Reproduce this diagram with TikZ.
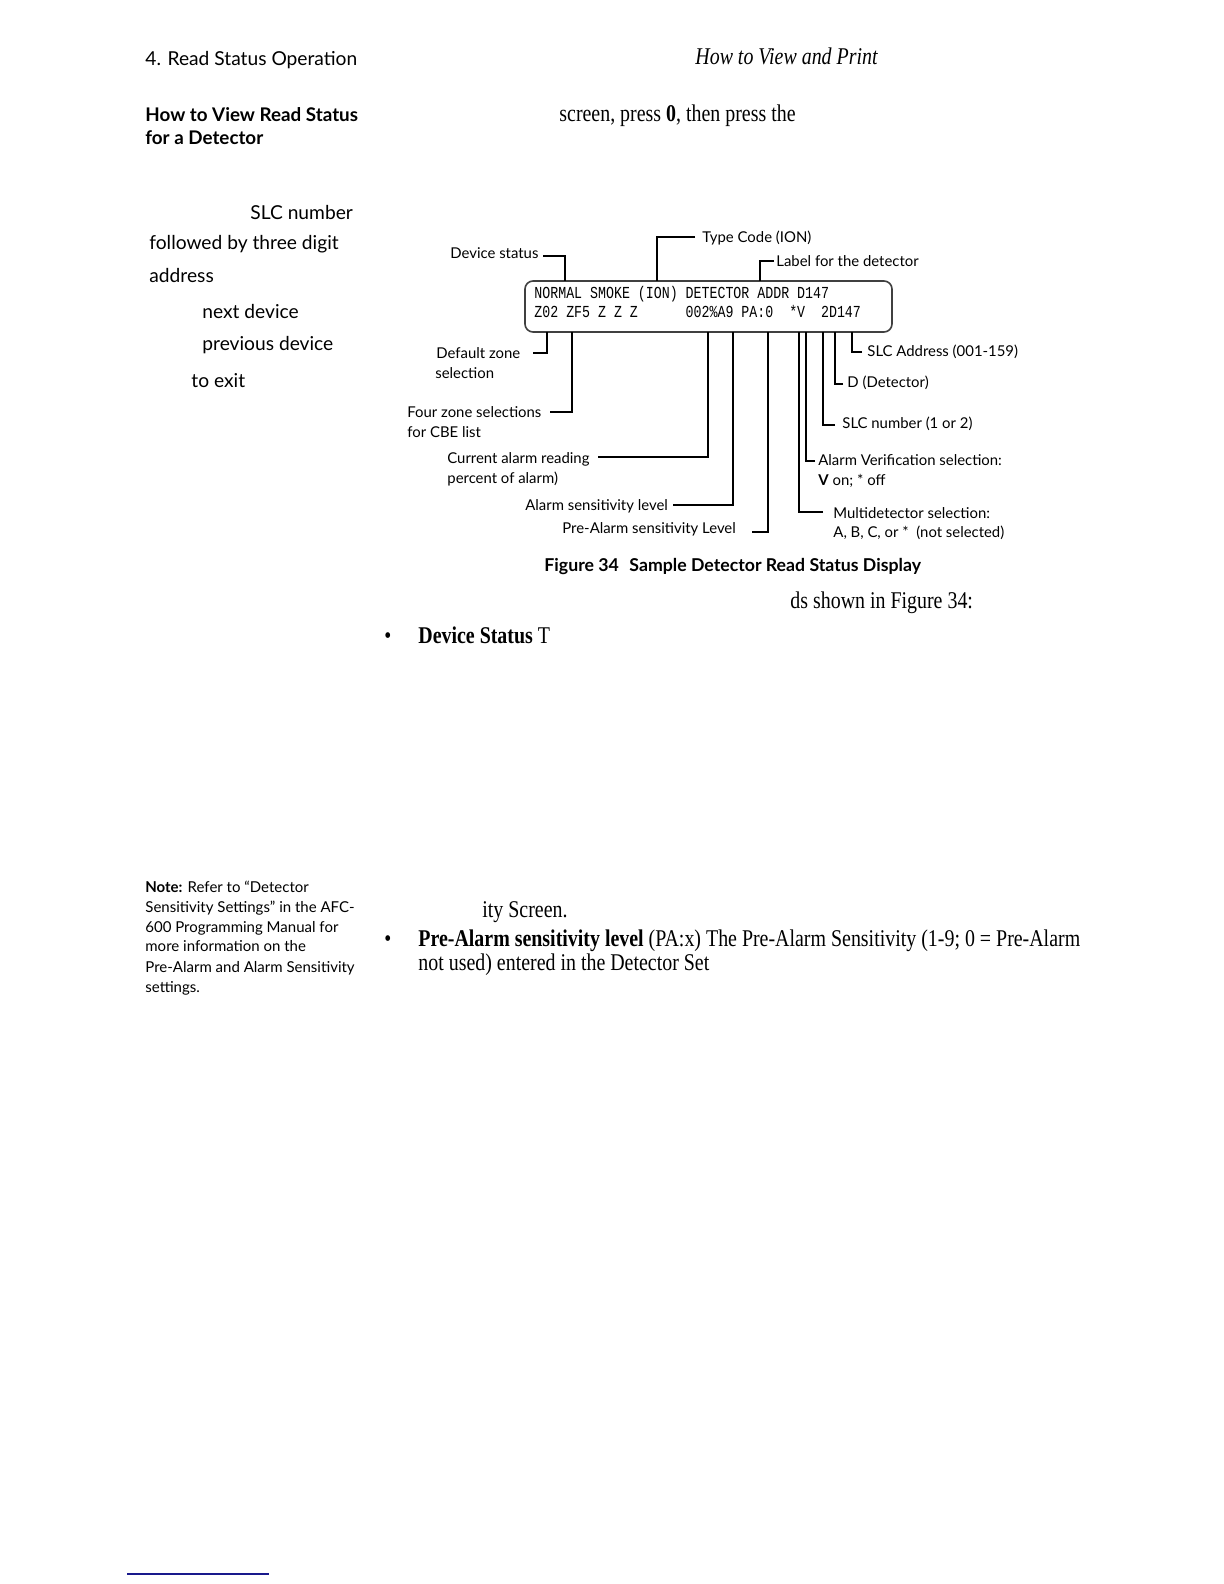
\documentclass[tikz,border=0pt]{standalone}
\usepackage{fontspec}
\setmainfont{Liberation Serif}[FakeStretch=0.83]
\newfontfamily\optima{Lato}
\newfontfamily\lcdfont{Liberation Mono}[FakeStretch=0.79]
\definecolor{linknavy}{RGB}{25,25,140}
\tikzset{
	txt/.style={inner sep=0pt, anchor=base west},
	runhead/.style={txt, font=\optima\fontsize{9.6}{12}\selectfont},
	sidehead/.style={txt, font=\optima\bfseries\fontsize{9.4}{12}\selectfont},
	sidetext/.style={txt, font=\optima\fontsize{9.6}{12}\selectfont},
	notetext/.style={txt, font=\optima\fontsize{7.5}{10}\selectfont},
	bodytext/.style={txt, font=\fontsize{12}{14}\selectfont},
	calltext/.style={txt, font=\optima\fontsize{7.45}{10}\selectfont},
	figcap/.style={txt, font=\optima\bfseries\fontsize{8.85}{10}\selectfont},
	lcdtext/.style={txt, font=\lcdfont\fontsize{8.4}{10}\selectfont},
	lead/.style={line width=0.6pt},
}

\begin{document}
\begin{tikzpicture}[x=0.5pt, y=-0.5pt]
	\useasboundingbox (0,0) rectangle (1224,1584);
	% Page text:
	\node[runhead] (chap) at (145,66){4. Read Status Operation};
	\node[bodytext, font=\itshape\fontsize{12}{14}\selectfont] (runtitle) at (695,65){How to View and Print};
	\node[sidehead] (head1) at (145,122){How to View Read Status};
	\node[sidehead] (head2) at (145,145){for a Detector};
	\node[bodytext] (step1) at (559,121){screen, press \textbf{0}, then press the};
	\node[sidetext] (side1) at (250,219){SLC number};
	\node[sidetext] (side2) at (149,249){followed by three digit};
	\node[sidetext] (side3) at (149,282){address};
	\node[sidetext] (side4) at (202,318){next device};
	\node[sidetext] (side5) at (202,350){previous device};
	\node[sidetext] (side6) at (191,387){to exit};
	% Display and leads:
	\node[draw=black!75, line width=0.8pt, rounded corners=4pt, minimum width=183.5pt, minimum height=25.5pt, inner sep=0pt] (panel) at (708.5,306.5){};
	\node[lcdtext] (row1) at (534,298){NORMAL SMOKE (ION) DETECTOR ADDR D147};
	\node[lcdtext] (row2) at (534,317){Z02 ZF5 Z Z Z\phantom{000000}002\%A9 PA:0\phantom{00}*V\phantom{00}2D147};
	\node[calltext] (lstatus) at (450,258){Device status};
	\node[calltext] (ltype) at (702,242){Type Code (ION)};
	\node[calltext] (llabel) at (776,266){Label for the detector};
	\node[calltext] (ldefault) at (436,358){Default zone};
	\node[calltext] (ldefault2) at (435,378){selection};
	\node[calltext] (lzones) at (407,417){Four zone selections};
	\node[calltext] (lzones2) at (407,437){for CBE list};
	\node[calltext] (lreading) at (447,463){Current alarm reading};
	\node[calltext] (lreading2) at (447,483){percent of alarm)};
	\node[calltext] (lalarm) at (525,510){Alarm sensitivity level};
	\node[calltext] (lprealarm) at (562,533){Pre-Alarm sensitivity Level};
	\node[calltext] (laddr) at (867,356){SLC Address (001-159)};
	\node[calltext] (ldet) at (847,387){D (Detector)};
	\node[calltext] (lslc) at (842,428){SLC number (1 or 2)};
	\node[calltext] (lverif) at (818,465){Alarm Verification selection:};
	\node[calltext] (lverif2) at (818,485){\textbf{V} on; * off};
	\node[calltext] (lmulti) at (833,518){Multidetector selection:};
	\node[calltext] (lmulti2) at (833,537){A, B, C, or * \ (not selected)};
	\coordinate (kstatus) at (543,256);  \coordinate (pstatus) at (565,281);
	\coordinate (ktype) at (695,237);    \coordinate (ptype) at (657,281);
	\coordinate (klabel) at (774,261);   \coordinate (plabel) at (760,281);
	\coordinate (kdefault) at (533,353); \coordinate (pdefault) at (547,332);
	\coordinate (kzones) at (550,412);   \coordinate (pzones) at (572,332);
	\coordinate (kreading) at (598,457); \coordinate (preading) at (708,332);
	\coordinate (kalarm) at (673,505);   \coordinate (palarm) at (733,332);
	\coordinate (kprealarm) at (752,532);\coordinate (pprealarm) at (768,332);
	\coordinate (kaddr) at (862,352);    \coordinate (paddr) at (852,332);
	\coordinate (kdet) at (843,384);     \coordinate (pdet) at (835,332);
	\coordinate (kslc) at (835,425);     \coordinate (pslc) at (823,332);
	\coordinate (kverif) at (815,461);   \coordinate (pverif) at (806,332);
	\coordinate (kmulti) at (823,512);   \coordinate (pmulti) at (799,332);
	\draw[lead] (kstatus) -| (pstatus);
	\draw[lead] (ktype) -| (ptype);
	\draw[lead] (klabel) -| (plabel);
	\draw[lead] (kdefault) -| (pdefault);
	\draw[lead] (kzones) -| (pzones);
	\draw[lead] (kreading) -| (preading);
	\draw[lead] (kalarm) -| (palarm);
	\draw[lead] (kprealarm) -| (pprealarm);
	\draw[lead] (kaddr) -| (paddr);
	\draw[lead] (kdet) -| (pdet);
	\draw[lead] (kslc) -| (pslc);
	\draw[lead] (kverif) -| (pverif);
	\draw[lead] (kmulti) -| (pmulti);
	\node[figcap] (caption) at (544,571){Figure 34\hspace{0.6em}Sample Detector Read Status Display};
	% Body text:
	\node[bodytext] (intro) at (790,608){ds shown in Figure 34:};
	\node[bodytext] (dot1) at (384,643){\textbullet};
	\node[bodytext] (item1) at (418,643){\textbf{Device Status} T};
	\node[bodytext] (item1end) at (482,917){ity Screen.};
	\node[bodytext] (dot2) at (384,946){\textbullet};
	\node[bodytext] (item2) at (418,946){\textbf{Pre-Alarm sensitivity level} (PA:x) The Pre-Alarm Sensitivity (1-9; 0 = Pre-Alarm};
	\node[bodytext] (item2b) at (418,970){not used) entered in the Detector Set};
	\node[notetext] (note1) at (145,892){\textbf{Note:} Refer to “Detector};
	\node[notetext] (note2) at (145,912){Sensitivity Settings” in the AFC-};
	\node[notetext] (note3) at (145,932){600 Programming Manual for};
	\node[notetext] (note4) at (145,951){more information on the};
	\node[notetext] (note5) at (145,972){Pre-Alarm and Alarm Sensitivity};
	\node[notetext] (note6) at (145,992){settings.};
	\coordinate (rulel) at (127,1574);
	\coordinate (ruler) at (269,1574);
	\draw[linknavy, line width=0.6pt] (rulel) -- (ruler);
\end{tikzpicture}
\end{document}
